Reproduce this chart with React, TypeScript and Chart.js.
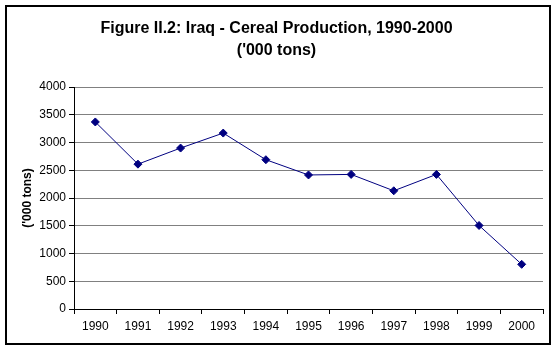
import React, { useEffect, useRef } from "react";
import { Chart, registerables } from "chart.js";

Chart.register(...registerables);

const titleLines = ["Figure II.2: Iraq - Cereal Production, 1990-2000", "('000 tons)"];
const yAxisTitle = "('000 tons)";
const years = ["1990", "1991", "1992", "1993", "1994", "1995", "1996", "1997", "1998", "1999", "2000"];
const production = [3370, 2610, 2900, 3170, 2690, 2415, 2425, 2130, 2425, 1505, 805];

const FONT = "'Liberation Sans', Arial, sans-serif";

const frame = {
  id: "frame",
  afterDraw(chart: any) {
    const ctx = chart.ctx;
    ctx.save();
    ctx.strokeStyle = "#000";
    ctx.lineWidth = 2;
    ctx.strokeRect(6, 6, 544, 338);
    ctx.restore();
  },
};

export default function App() {
  const ref = useRef<HTMLCanvasElement>(null);
  useEffect(() => {
    document.body.style.margin = "0";
    const chart = new Chart(ref.current!, {
      type: "line",
      data: {
        labels: years,
        datasets: [
          {
            data: production,
            borderColor: "#000080",
            backgroundColor: "#000080",
            borderWidth: 1,
            pointStyle: "rectRot",
            pointRadius: 4,
            pointHoverRadius: 4,
            pointBorderWidth: 1,
            tension: 0,
          },
        ],
      },
      plugins: [frame],
      options: {
        animation: false,
        responsive: false,
        devicePixelRatio: 1,
        layout: { padding: { left: 10, right: 14, top: 0, bottom: 0 } },
        plugins: {
          legend: { display: false },
          tooltip: { enabled: false },
          title: {
            display: true,
            text: titleLines,
            color: "#000",
            font: { family: FONT, size: 16, weight: "bold", lineHeight: 1.375 },
            padding: { top: 18, bottom: 25 },
          },
        },
        scales: {
          x: {
            offset: true,
            grid: {
              offset: true,
              drawOnChartArea: false,
              drawTicks: true,
              tickLength: 5,
              color: "#000",
              tickColor: "#000",
            },
            border: { display: true, color: "#000", width: 1 },
            ticks: {
              color: "#000",
              font: { family: FONT, size: 12 },
              padding: 5,
              maxRotation: 0,
              autoSkip: false,
            },
            afterFit(scale: any) {
              scale.height = 42;
            },
          },
          y: {
            min: 0,
            max: 4000,
            ticks: {
              stepSize: 500,
              color: "#000",
              font: { family: FONT, size: 12 },
              padding: 3,
              callback: (v: any) => String(v),
            },
            grid: {
              color: "#808080",
              tickColor: "#000",
              tickLength: 5,
              lineWidth: 1,
            },
            border: { display: true, color: "#000", width: 1 },
            title: {
              display: true,
              text: yAxisTitle,
              color: "#000",
              font: { family: FONT, size: 12, weight: "bold" },
              padding: { top: 10, bottom: 0 },
            },
            afterFit(scale: any) {
              scale.width = 64;
            },
          },
        },
      },
    });
    return () => chart.destroy();
  }, []);
  return (
    <div style={{ position: "relative", width: 557, height: 351 }}>
      <canvas ref={ref} width={557} height={351} style={{ display: "block" }} />
    </div>
  );
}
